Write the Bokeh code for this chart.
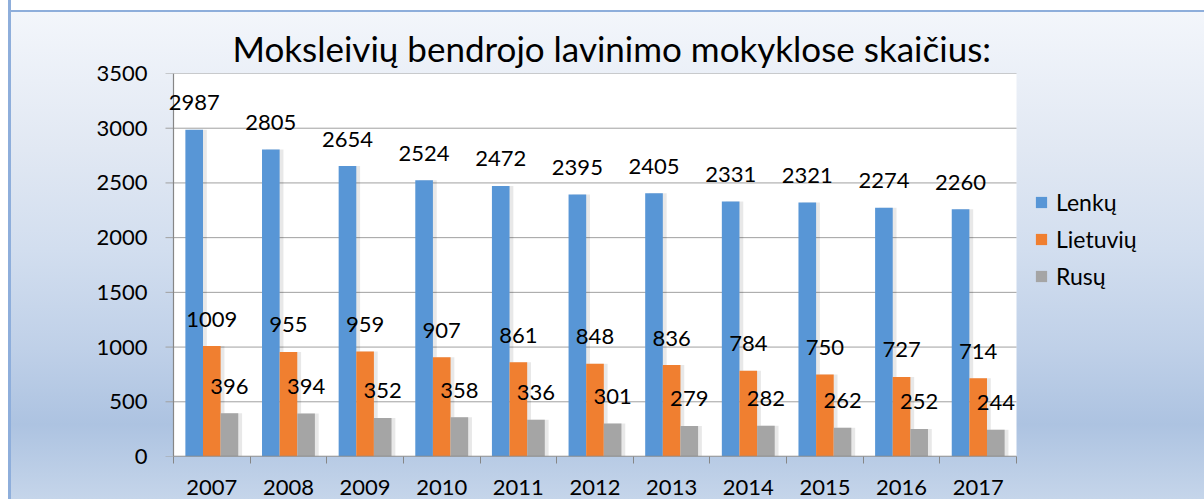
import numpy as np
from bokeh.plotting import figure
from bokeh.models import (Range1d, FixedTicker, Legend, LegendItem)
from bokeh.core.properties import value
from bokeh.embed import file_html
from bokeh.resources import INLINE

# ---- data ----
years = ["2007", "2008", "2009", "2010", "2011", "2012", "2013", "2014", "2015", "2016", "2017"]
lenku = [2987, 2805, 2654, 2524, 2472, 2395, 2405, 2331, 2321, 2274, 2260]
lietuviu = [1009, 955, 959, 907, 861, 848, 836, 784, 750, 727, 714]
rusu = [396, 394, 352, 358, 336, 301, 279, 282, 262, 252, 244]
series_names = ["Lenkų", "Lietuvių", "Rusų"]
y_ticks = [0, 500, 1000, 1500, 2000, 2500, 3000, 3500]

FONT = "Lato"
BW = 0.23
n = len(years)
centers = np.arange(n) + 0.5
offsets = [-BW, 0.0, BW]
colors = ["#5896d6", "#f07f30", "#a5a5a5"]
series = [lenku, lietuviu, rusu]

# layout in pixels: plot area 173..1016, frame 160..1204
PA_L, PA_R, FR_L, FR_R = 173, 1016, 160, 1204
u = n / (PA_R - PA_L)          # data units per pixel
x_start = -(PA_L - FR_L) * u
x_end = (FR_R - PA_L) * u

p = figure(width=1204, height=499,
           x_range=Range1d(x_start, x_end), y_range=Range1d(0, 3500),
           output_backend="svg", toolbar_location=None,
           min_border_left=FR_L, min_border_right=0,
           min_border_top=73, min_border_bottom=43,
           background_fill_color=None, border_fill_color=None,
           outline_line_color=None)

p.styles = {
    "background-image": (
        "linear-gradient(to right, #ffffff 0px, #ffffff 8px, #8eaedb 8px, #8eaedb 11px, transparent 11px), "
        "linear-gradient(to bottom, #ffffff 0px, #ffffff 10px, #8eaedb 10px, #8eaedb 12px, "
        "#f3f6fb 12px, #e1e8f3 30%, #d2deef 50%, #bfd0e8 70%, #adc3e1 85%, #c5d5ea 100%)"
    )
}

# title
p.title.text = "Moksleivių bendrojo lavinimo mokyklose skaičius:"
p.title.text_font = FONT
p.title.text_font_size = "35px"
p.title.text_font_style = "normal"
p.title.text_color = "black"
p.title.align = "left"
p.title.offset = 232 - FR_L
p.title.standoff = 9

# white plot area
p.quad(left=0, right=n, bottom=y_ticks[0], top=y_ticks[-1], fill_color="white", line_color=None)
# horizontal gridlines (extend 8px left of the axis as tick marks)
p.segment(x0=[-8 * u] * len(y_ticks), x1=[n] * len(y_ticks), y0=y_ticks, y1=y_ticks,
          line_color="#a0a0a0", line_width=1)

# shadows
for vals, off in zip(series, offsets):
    p.vbar(x=centers + off + 0.05, top=vals, width=BW, fill_color="black",
           fill_alpha=0.09, line_color=None)

renderers = []
for vals, off, col in zip(series, offsets, colors):
    r = p.vbar(x=centers + off, top=vals, width=BW, fill_color=col, line_color=None)
    renderers.append(r)

# axis lines across the plot area
p.segment(x0=[0], x1=[n], y0=[0], y1=[0], line_color="#868686", line_width=1.5)
p.segment(x0=[0], x1=[0], y0=[0], y1=[y_ticks[-1]], line_color="#868686", line_width=1.2)

for vals, off in zip(series, offsets):
    p.text(x=centers + off, y=vals, text=[str(v) for v in vals],
           text_align="center", text_baseline="middle", y_offset=-27,
           text_font=value(FONT), text_font_size="22px", text_color="black")

# axes
p.yaxis.ticker = FixedTicker(ticks=y_ticks)
p.yaxis.axis_line_color = None
p.yaxis.major_tick_line_color = None
p.yaxis.major_tick_out = 0
p.yaxis.major_tick_in = 0
p.yaxis.minor_tick_line_color = None
p.yaxis.major_label_text_font = FONT
p.yaxis.major_label_text_font_size = "22px"
p.yaxis.major_label_text_color = "black"
p.yaxis.major_label_standoff = 13

p.xaxis.ticker = FixedTicker(ticks=list(centers), minor_ticks=list(range(n + 1)))
p.xaxis.major_label_overrides = {float(c): y for c, y in zip(centers, years)}
p.xaxis.axis_line_color = None
p.xaxis.major_tick_line_color = None
p.xaxis.major_tick_out = 0
p.xaxis.major_tick_in = 0
p.xaxis.minor_tick_line_color = "#868686"
p.xaxis.minor_tick_out = 7
p.xaxis.minor_tick_in = 0
p.xaxis.major_label_text_font = FONT
p.xaxis.major_label_text_font_size = "22px"
p.xaxis.major_label_text_color = "black"
p.xaxis.major_label_standoff = 16

p.xgrid.grid_line_color = None
p.ygrid.grid_line_color = None

legend = Legend(items=[LegendItem(label=nm, renderers=[r]) for nm, r in zip(series_names, renderers)],
                location=(1034 - FR_L, 166), glyph_width=14, glyph_height=14, label_standoff=8,
                label_height=24, spacing=9, padding=0, margin=0,
                border_line_color=None, background_fill_alpha=0,
                label_text_font=FONT, label_text_font_size="23px", label_text_color="black")
p.add_layout(legend, "center")

open("out.html", "w").write(file_html(p, INLINE))
